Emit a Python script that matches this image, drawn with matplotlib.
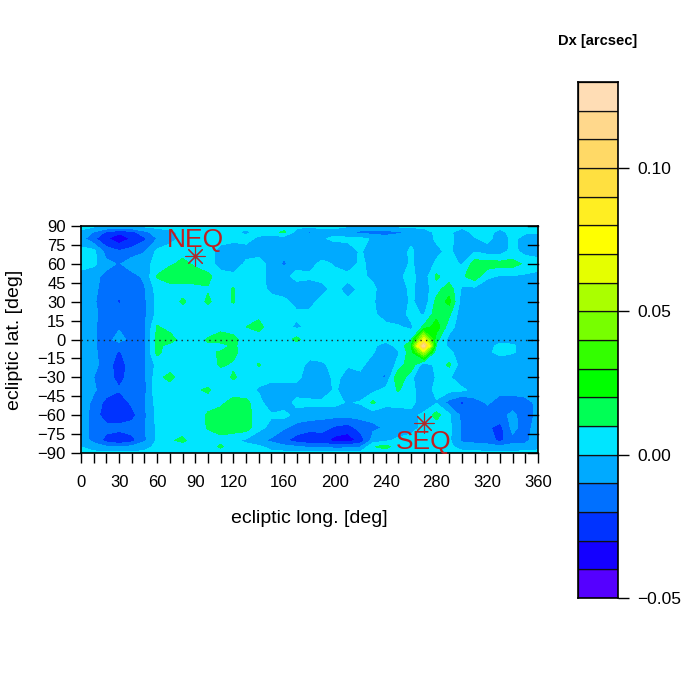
import numpy as np
import matplotlib
matplotlib.use("Agg")
from matplotlib import pyplot as plt
from matplotlib.colors import BoundaryNorm, ListedColormap

plt.rcParams['font.family'] = ['Liberation Sans', 'DejaVu Sans']

# Grid of the map, values in units of 0.001 arcsec
lon = list(range(0, 361, 10))
lat = [90, 85, 80, 70, 60, 50, 40, 30, 20, 10, 0, -5, -10, -20, -30, -40, -50, -60, -70, -80, -85, -90]
dx_mas = [
    [3, 2, 1, 1, 1, 2, 3, 3, 3, 3, 3, 3, 3, 3, 3, 2, 3, 3, 3, 2, 2, 1, 1, 1, 1, 2, 3, 3, 3, 3, 3, 3, 3, 3, 3, 2, 2],
    [-2, -11, -22, -28, -24, -13, -5, -2, 2, 3, 4, 3, 2, -2, 3, 6, 12, -5, -11, -3, -3, -8, -13, -14, -14, -12, -8, -5, 2, 2, -5, 3, 3, -3, 3, 1, 1],
    [-6, -18, -29, -37, -29, -22, -10, -3, 2, 3, 3, 3, 3, 3, -2, -6, -7, -8, -6, -1, 2, 2, 2, -1, -6, -3, -3, -6, 2, 3, -6, -1, 3, -5, 2, -3, -3],
    [3, 3, -15, -19, -16, -11, 2, 4, 6, 6, 3, -3, -7, -4, -3, -7, -7, -6, -7, -7, -6, -5, 1, -5, -8, -6, 2, -7, -3, 3, -8, -1, -5, -5, 3, -4, -3],
    [3, 2, -7, -11, -4, -3, 3, 8, 13, 8, 3, -3, -7, 2, 3, -3, -12, -3, -4, 3, -1, -6, 2, -3, -8, -7, 2, -8, 2, 3, -1, 15, 16, 14, 14, 8, 3],
    [-3, -7, -13, -14, -14, -8, 11, 18, 17, 16, 13, 3, 3, 3, 3, -3, -3, 3, 2, 3, 3, 3, 2, -2, -8, -2, 3, -6, 12, 4, 8, 16, 2, -1, -1, -2, -2],
    [-4, -8, -14, -18, -15, -11, 4, 3, 5, 6, 9, 5, 11, 3, 3, -2, -6, -5, -6, -3, 3, -4, 2, 2, -6, -5, 2, -5, 6, 16, -2, -3, -7, -8, -8, -7, -7],
    [-5, -9, -15, -21, -15, -12, 3, 3, 12, 4, 12, 4, 11, 3, 3, 3, 3, -4, -3, 3, 3, 2, 2, 1, -6, -8, 2, -7, 13, 23, -5, -7, -8, -8, -8, -8, -8],
    [-5, -8, -14, -16, -14, -12, 3, 3, 3, 3, 3, 3, 3, 3, 7, 3, 3, 2, 2, 3, 3, 3, 3, 2, -5, -5, 3, -1, 16, 12, -7, -8, -8, -8, -8, -8, -8],
    [-5, -9, -14, -11, -14, -12, 11, 5, 5, 8, 4, 6, 3, 10, 14, 3, 3, -2, 3, 3, 3, 3, 3, 3, 3, 1, -2, 12, 26, 4, -6, -7, -8, -8, -8, -8, -8],
    [-5, -9, -13, -7, -13, -12, 14, 16, 4, 6, 11, 16, 14, 4, 3, 4, 5, 13, 3, 3, 3, 3, 3, 3, 3, 2, 8, 70, 13, -3, -4, -6, -5, -3, -3, -5, -5],
    [-5, -9, -14, -14, -14, -12, 13, 6, 4, 4, 9, 5, 12, 4, 3, 3, 3, 4, 3, 3, 3, 3, 3, 2, -5, 3, 18, 118, 8, -2, -3, -5, -3, 2, 1, -3, -5],
    [-5, -8, -15, -21, -15, -11, 13, 4, 3, 3, 8, 11, 14, 3, 3, 3, 3, 3, 3, 3, 3, 3, 3, 1, -7, -1, 16, 55, 2, 2, -5, -4, -2, 3, 1, -4, -5],
    [-4, -7, -15, -25, -15, -11, 3, 3, 3, 3, 3, 12, 8, 3, 11, 3, 2, 3, -2, -1, 2, 1, 3, -6, -8, 3, 18, -7, 3, 12, -6, -9, -8, -7, -7, -6, -5],
    [-3, -10, -15, -24, -15, -12, 6, 14, 3, 3, 3, 3, 12, 3, 3, 3, 2, 3, -6, -7, 3, -4, -3, -8, -11, 20, 2, -9, 1, 1, -6, -9, -9, -7, -7, -6, -5],
    [-4, -9, -14, -19, -14, -13, 8, 3, 3, 8, 12, 3, 2, 3, -1, -5, -3, -5, -5, -9, 2, -8, -7, -3, 3, 11, 3, -6, 3, 3, 2, -3, -8, -8, -7, -6, -4],
    [-5, -12, -24, -27, -18, -11, 4, 3, 3, 3, 4, 6, 16, 13, 3, -6, -5, 3, 2, 3, 3, -1, 1, 12, 3, 3, 3, -6, -1, -14, -22, -14, -9, -13, -14, -13, -8],
    [-5, -14, -27, -29, -24, -12, 3, 3, 3, 3, 12, 18, 18, 16, 3, 1, 3, -4, -5, -7, -7, -7, -7, -7, -6, -5, -3, 2, 14, 2, -13, -12, -14, -13, -8, -14, -8],
    [-6, -13, -16, -16, -15, -11, 2, 3, 3, 3, 11, 14, 16, 15, 3, -3, -9, -14, -17, -16, -22, -25, -16, -12, -9, -6, -3, 2, 3, 2, -11, -12, -18, -24, -7, -15, -4],
    [-3, -14, -24, -30, -24, -12, 2, 8, 13, 3, 3, 7, 2, -2, -8, -12, -18, -25, -27, -27, -34, -36, -27, -6, -2, 2, 3, 3, 3, 2, -12, -13, -14, -23, -13, -13, -3],
    [0, -4, -9, -9, -8, -3, 2, 3, 3, 3, 3, 12, 3, 3, 2, -4, -7, -9, -12, -11, -14, -13, -11, 9, 14, 3, 3, 3, 3, 2, -4, -6, -7, -8, -7, -6, -3],
    [2, 2, 2, 2, 2, 2, 3, 3, 3, 3, 3, 3, 3, 3, 3, 3, 3, 3, 3, 3, 3, 3, 3, 3, 3, 3, 3, 3, 3, 3, 3, 3, 3, 3, 3, 3, 3],
]

# colour key, one colour per band from -0.05 to 0.13
levels = [-0.05, -0.04, -0.03, -0.02, -0.01, 0.0, 0.01, 0.02, 0.03, 0.04, 0.05,
          0.06, 0.07, 0.08, 0.09, 0.10, 0.11, 0.12, 0.13]
band_colors = ['#5500FF', '#1400FF', '#0033FF', '#0070FF', '#00AAFF', '#00E5FF',
               '#00FF55', '#00FF00', '#33FF00', '#77FF00', '#AAFF00', '#E5FF00',
               '#FFFF00', '#FFEE22', '#FFE040', '#FFD966', '#FFD88C', '#FFDDB5']

xticks = list(range(0, 361, 10))
xlabeled = [0, 30, 60, 90, 120, 160, 200, 240, 280, 320, 360]
yticks = list(range(-90, 91, 15))
key_ticks = [-0.05, 0.0, 0.05, 0.10]
key_ticklabels = ['\u22120.05', '0.00', '0.05', '0.10']

eq_lon = [90, 270]
eq_lat = [66.5, -66.5]
eq_names = ['NEQ', 'SEQ']
eq_text_lat = [79, -81]

dx = np.array(dx_mas) / 1000.0
cmap = ListedColormap(band_colors)
norm = BoundaryNorm(levels, cmap.N)

fig = plt.figure(figsize=(7, 7), dpi=100)
ax = fig.add_axes([81 / 700, 1 - 453 / 700, 457 / 700, 227 / 700])
ax.contourf(lon, lat, dx, levels=levels, cmap=cmap, norm=norm, extend='both')
ax.axhline(0, color='#222222', linestyle=(0, (1, 3)), linewidth=1.0)
ax.set_xlim(0, 360)
ax.set_ylim(-90, 90)

ax.scatter(eq_lon, eq_lat, marker=(8, 2, 0), s=190, color='#B02A2A', linewidths=0.8, zorder=4)
for i in range(2):
    ax.text(eq_lon[i], eq_text_lat[i], eq_names[i], color='#C02020', fontsize=19,
            ha='center', va='center', zorder=5)

ax.set_xticks(xticks)
ax.set_xticklabels([str(t) if t in xlabeled else '' for t in xticks], fontsize=12)
ax.set_yticks(yticks)
ax.set_yticklabels([str(t).replace('-', '\u2212') for t in yticks], fontsize=12)
ax.tick_params(axis='both', direction='out', length=7, width=1.0, pad=4)
ax.tick_params(axis='x', pad=9)
ax.set_xlabel('ecliptic long. [deg]', fontsize=14, labelpad=14)
ax.set_ylabel('ecliptic lat. [deg]', fontsize=14, labelpad=10)

# right side ticks point inward
for t in yticks:
    ax.plot([360, 360 - 7.5], [t, t], color='k', linewidth=1.0, zorder=6, clip_on=False)
for s in ax.spines.values():
    s.set_linewidth(1.2)

cax = fig.add_axes([578 / 700, 1 - 598 / 700, 40 / 700, 516 / 700])
for i in range(len(band_colors)):
    cax.bar(0.5, levels[i + 1] - levels[i], bottom=levels[i], width=1, color=band_colors[i],
            edgecolor='#111111', linewidth=0.9)
cax.set_xlim(0, 1)
cax.set_ylim(-0.05, 0.13)
cax.set_xticks([])
cax.yaxis.tick_right()
cax.set_yticks(key_ticks)
cax.set_yticklabels(key_ticklabels, fontsize=12.5)
cax.tick_params(axis='y', direction='out', length=8, width=1.0, pad=6)
for s in cax.spines.values():
    s.set_linewidth(1.2)

fig.text(598 / 700, 1 - 41 / 700, 'Dx [arcsec]', fontsize=10.5, fontweight='bold', ha='center', va='center')

fig.savefig('out.png', dpi=100)
